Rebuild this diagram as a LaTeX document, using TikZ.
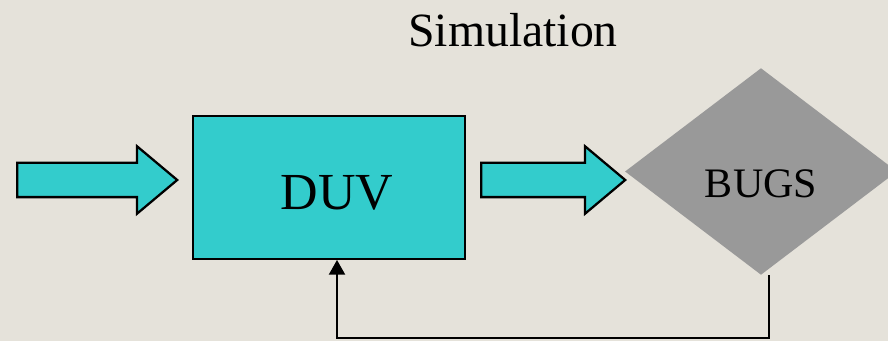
\documentclass[tikz,border=0pt]{standalone}
\usepackage{fontspec}
\setmainfont{Liberation Serif}
\usetikzlibrary{arrows.meta,positioning,shapes.arrows,shapes.geometric}
\definecolor{duvcyan}{HTML}{33CCCC}
\definecolor{bugsgray}{HTML}{999999}
\definecolor{slidebg}{HTML}{E5E2DA}
\tikzset{%
	blockarrow/.style = {draw, single arrow, fill=duvcyan, line width=1.7pt, inner xsep=0pt, inner ysep=12pt, single arrow head extend=12.4pt, single arrow tip angle=80, minimum height=#1},
	duvbox/.style     = {draw, rectangle, fill=duvcyan, line width=1.7pt, minimum width=204pt, minimum height=107pt},
	bugsdiamond/.style= {diamond, fill=bugsgray, aspect=1.32, inner sep=0pt, minimum width=204pt, minimum height=155pt},
	feedback/.style   = {line width=1.5pt, -{Triangle[width=12pt,length=11pt]}},
}
\begin{document}
\begin{tikzpicture}[x=0.75pt,y=-0.75pt]
	\fill[slidebg] (0,0) rectangle (888,341);
	\useasboundingbox (0,0) rectangle (888,341);
	\node (title) at (513,30) {\fontsize{35.8}{40}\selectfont Simulation};
	\node[blockarrow=120pt] (inarrow) at (87,180) {};
	\node[duvbox, label={[xshift=6pt,yshift=-4pt]center:\fontsize{39}{44}\selectfont DUV}] (duv) at (329,187.5) {};
	\node[blockarrow=108pt] (outarrow) at (543,180) {};
	\node[bugsdiamond, label={[yshift=-9pt]center:\fontsize{31.5}{36}\selectfont BUGS}] (bugs) at (761,171.5) {};
	% loop back from the bugs to the design
	\draw[feedback] ([xshift=6pt]bugs.south) -- ++(0,-47.5pt) -| ([xshift=6pt]duv.south);
\end{tikzpicture}
\end{document}
